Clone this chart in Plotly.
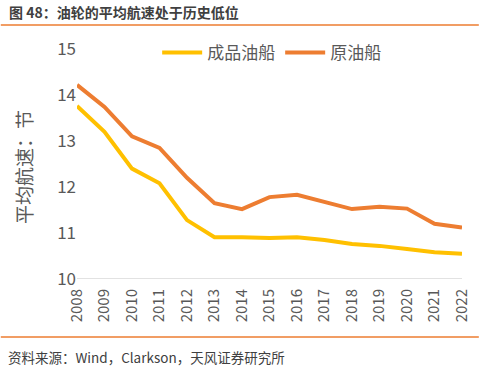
import plotly.graph_objects as go

years = list(range(2008, 2023))
product_tanker = [13.76, 13.2, 12.4, 12.08, 11.28, 10.91, 10.91, 10.89, 10.91, 10.85, 10.76, 10.72, 10.65, 10.58, 10.55]
crude_tanker = [14.22, 13.74, 13.1, 12.85, 12.2, 11.65, 11.52, 11.78, 11.83, 11.67, 11.52, 11.57, 11.53, 11.2, 11.12]
series_names = ["成品油船", "原油船"]
colors = ["#FFC000", "#ED7D31"]

FONT = "Noto Sans CJK SC"
W, H = 483, 366
L, R, T, B = 77, 17, 49, 87
pw, ph = W - L - R, H - T - B

def py(p):
    return (H - B - p) / ph

def px(p):
    return (p - L) / pw

fig = go.Figure()
for name, vals, c in zip(series_names, [product_tanker, crude_tanker], colors):
    fig.add_trace(go.Scatter(x=years, y=vals, name=name, mode="lines",
                             line=dict(color=c, width=4), cliponaxis=False))

fig.update_layout(
    width=W, height=H,
    margin=dict(l=L, r=R, t=T, b=B),
    paper_bgcolor="white", plot_bgcolor="white",
    font=dict(family=FONT, color="#595959"),
    showlegend=True,
    legend=dict(orientation="h", x=px(158), y=py(53), xanchor="left", yanchor="middle",
                font=dict(size=17, color="#595959"), bgcolor="rgba(0,0,0,0)",
                itemwidth=40, tracegroupgap=0, entrywidth=68),
    xaxis=dict(range=[2008, 2022], tickvals=years, ticktext=[str(y) for y in years],
               tickangle=-90, tickfont=dict(size=15, color="#595959"),
               ticklabelstandoff=6,
               showgrid=False, zeroline=False, showline=False, ticks="", ticklen=0),
    yaxis=dict(range=[10, 15], tickvals=[10, 11, 12, 13, 14, 15],
               tickfont=dict(size=17, color="#595959"),
               showgrid=False, zeroline=False, showline=False, ticks=""),
    shapes=[
        dict(type="line", xref="paper", yref="y", x0=0, x1=1, y0=10, y1=10,
             line=dict(color="#D9D9D9", width=1.5), layer="below"),
        dict(type="line", xref="paper", yref="paper", x0=px(0), x1=px(W), y0=py(25), y1=py(25),
             line=dict(color="#ED7D31", width=1.5)),
        dict(type="line", xref="paper", yref="paper", x0=px(0), x1=px(W), y0=py(337), y1=py(337),
             line=dict(color="#ED7D31", width=1.5)),
    ],
    annotations=[
        dict(text="<b>图 48：油轮的平均航速处于历史低位</b>", xref="paper", yref="paper",
             x=px(6), y=py(12), xanchor="left", yanchor="middle", showarrow=False,
             font=dict(size=14, color="#404040", family=FONT)),
        dict(text="资料来源：Wind，Clarkson，天风证券研究所", xref="paper", yref="paper",
             x=px(5), y=py(357), xanchor="left", yanchor="middle", showarrow=False,
             font=dict(size=13.5, color="#404040", family=FONT)),
        dict(text="平均航速：节", xref="paper", yref="paper", textangle=-90,
             x=px(22.5), y=py(167), xanchor="center", yanchor="middle", showarrow=False,
             font=dict(size=19, color="#595959", family=FONT)),
    ],
)

fig.write_html("out.html", config={"displayModeBar": False},
               post_script="document.body.style.margin='0';document.body.style.overflow='hidden';")
